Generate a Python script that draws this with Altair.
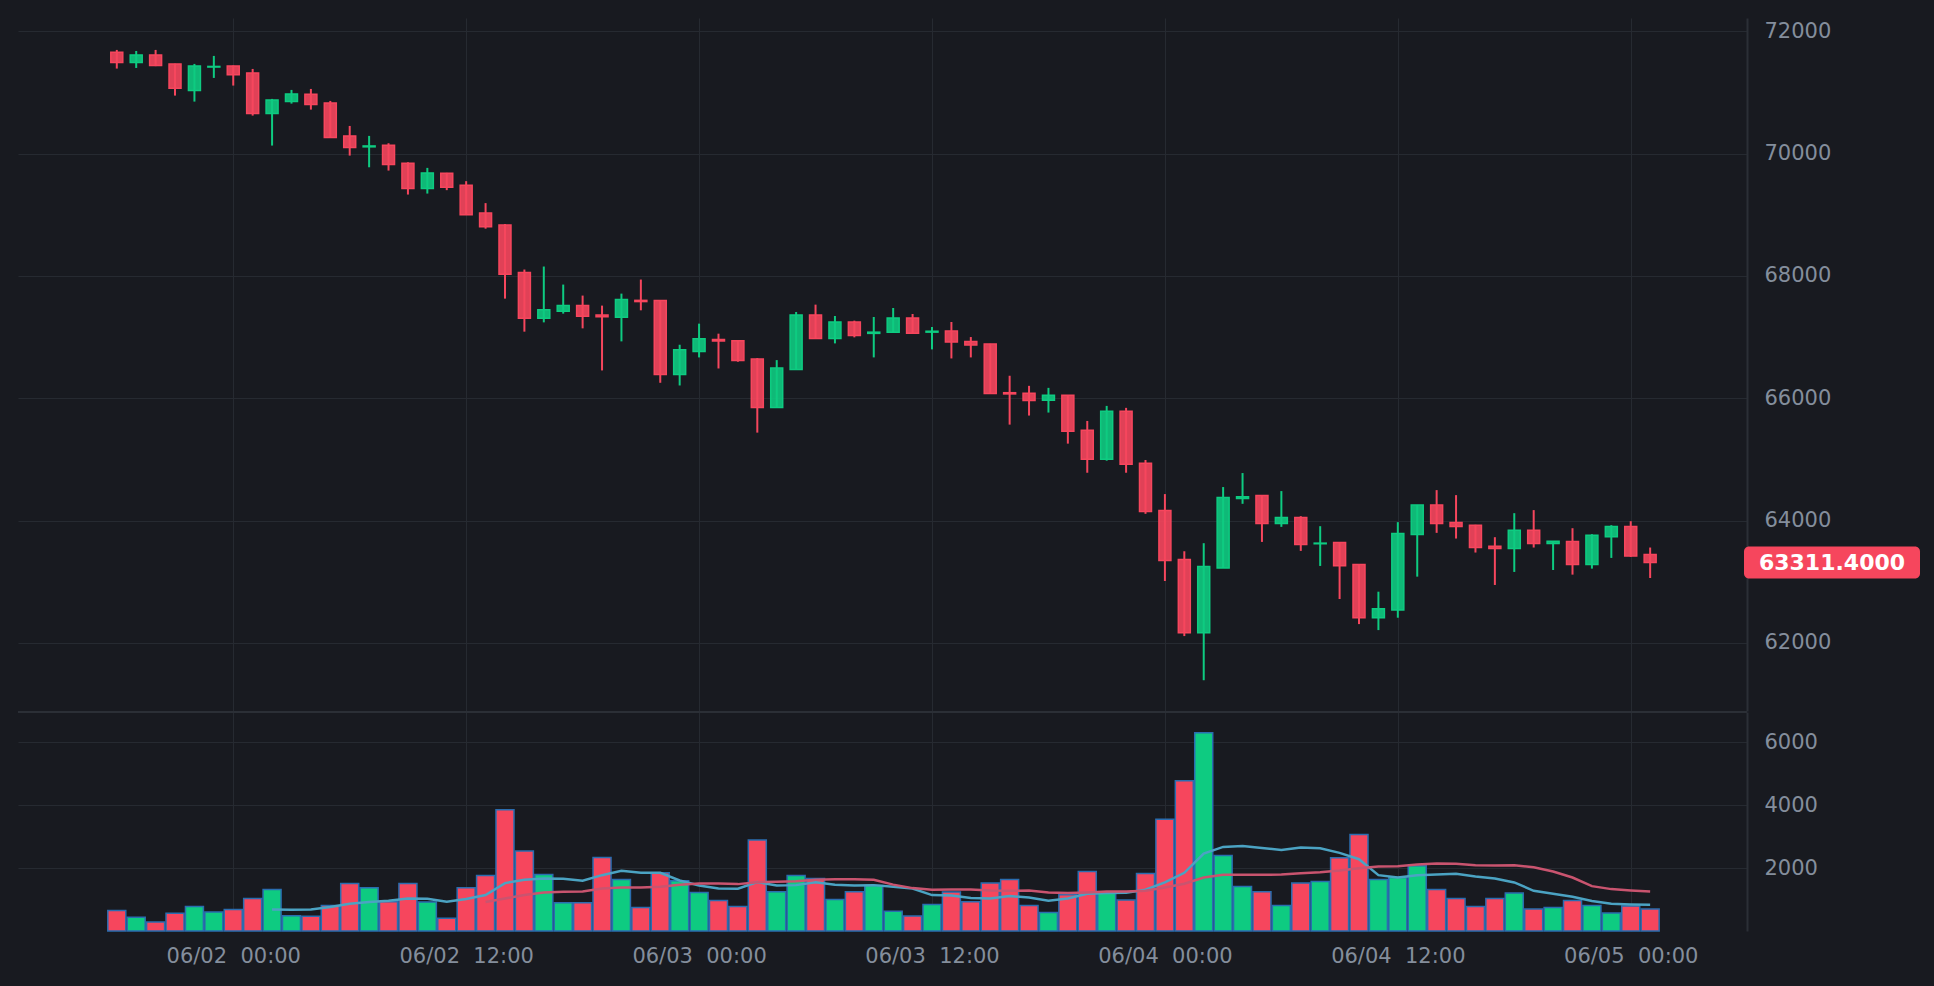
import altair as alt
import pandas as pd

# ---------------- data ----------------
first_candle = "2024-06-01T18:00:00Z"   # hourly candles
n_candles = 80

opens = [71657, 71488, 71613, 71466, 71030, 71415, 71433, 71319, 70654, 70850,
         70970, 70828, 70289, 70110, 70136, 69842, 69428, 69679, 69484, 69027,
         68831, 68055, 67306, 67421, 67514, 67360, 67322, 67600, 67596, 66388,
         66765, 66960, 66940, 66640, 65847, 66470, 67361, 66978, 67246, 67060,
         67077, 67312, 67080, 67098, 66929, 66885, 66090, 66082, 65967, 66049,
         65475, 65000, 65787, 64935, 64164, 63361, 62164, 63224, 64360, 64410,
         63951, 64049, 63620, 63640, 63279, 62410, 62536, 63771, 64252, 63967,
         63924, 63580, 63541, 63842, 63623, 63656, 63279, 63733, 63902, 63443]
highs = [71695, 71678, 71695, 71470, 71466, 71597, 71440, 71384, 70894, 71041,
         71057, 70861, 70452, 70289, 70169, 69858, 69766, 69685, 69549, 69190,
         68848, 68104, 68153, 67858, 67678, 67514, 67710, 67940, 67600, 66874,
         67219, 67055, 66945, 66656, 66623, 67410, 67530, 67344, 67268, 67328,
         67475, 67377, 67164, 67246, 67000, 66890, 66367, 66202, 66169, 66052,
         65628, 65874, 65842, 64989, 64432, 63497, 63629, 64547, 64776, 64410,
         64481, 64071, 63907, 63640, 63284, 62836, 63973, 64255, 64497, 64415,
         63930, 63727, 64120, 64170, 63661, 63874, 63776, 63924, 63989, 63558]
lows = [71390, 71400, 71430, 70948, 70850, 71237, 71112, 70621, 70131, 70817,
        70719, 70255, 69967, 69776, 69722, 69330, 69346, 69402, 68995, 68772,
        67628, 67088, 67240, 67383, 67142, 66454, 66929, 67437, 66252, 66208,
        66667, 66486, 66596, 65437, 65847, 66470, 66978, 66896, 66995, 66667,
        67077, 67060, 66798, 66650, 66667, 66070, 65568, 65716, 65765, 65257,
        64781, 64978, 64781, 64109, 63011, 62110, 61388, 63224, 64273, 63650,
        63896, 63503, 63257, 62716, 62306, 62208, 62410, 63082, 63798, 63705,
        63476, 62946, 63159, 63558, 63191, 63115, 63213, 63388, 63405, 63060]
closes = [71488, 71613, 71439, 71068, 71433, 71425, 71291, 70654, 70877, 70975,
          70801, 70261, 70098, 70125, 69820, 69428, 69684, 69451, 69000, 68804,
          68027, 67306, 67448, 67514, 67339, 67330, 67612, 67580, 66388, 66792,
          66973, 66935, 66618, 65847, 66492, 67361, 66978, 67246, 67027, 67080,
          67312, 67060, 67095, 66918, 66869, 66077, 66070, 65962, 66049, 65459,
          65000, 65787, 64918, 64148, 63344, 62164, 63246, 64377, 64388, 63951,
          64049, 63607, 63630, 63262, 62410, 62558, 63787, 64252, 63951, 63902,
          63558, 63541, 63842, 63623, 63661, 63279, 63760, 63902, 63421, 63311.4]
volumes = [656, 434, 286, 561, 783, 603, 688, 1037, 1323, 487,
           466, 815, 1513, 1375, 931, 1513, 920, 402, 1375, 1767,
           3862, 2550, 1799, 899, 899, 2338, 1640, 751, 1852, 1598,
           1227, 973, 783, 2899, 1248, 1767, 1672, 1005, 1248, 1449,
           630, 476, 846, 1238, 931, 1524, 1640, 815, 592, 1153,
           1894, 1227, 984, 1830, 3555, 4782, 6306, 2402, 1418, 1248,
           815, 1524, 1576, 2328, 3068, 1640, 1703, 2074, 1323, 1037,
           783, 1037, 1206, 698, 751, 973, 815, 571, 794, 698]

# volume averages as drawn (blue starts at candle 8, pink at candle 19)
ma_blue_first = 8
ma_blue = [688, 677, 688, 762, 867, 920, 963, 1037, 1026, 931, 1016, 1143,
           1524, 1629, 1672, 1661, 1598, 1777, 1915, 1851, 1851, 1608, 1449, 1354,
           1343, 1555, 1449, 1460, 1555, 1471, 1449, 1460, 1412, 1354, 1143, 1132,
           1047, 1037, 1111, 1068, 963, 1037, 1185, 1206, 1217, 1312, 1545, 1851,
           2465, 2677, 2708, 2645, 2582, 2656, 2634, 2486, 2285, 1777, 1703, 1777,
           1798, 1820, 1735, 1672, 1545, 1280, 1185, 1090, 952, 867, 846, 836]
ma_pink_first = 19
ma_pink = [920, 1037, 1143, 1227, 1248, 1259, 1354, 1386, 1386, 1407, 1471, 1513,
           1513, 1492, 1555, 1566, 1587, 1629, 1650, 1650, 1629, 1476, 1365, 1312,
           1323, 1323, 1291, 1280, 1291, 1227, 1206, 1227, 1259, 1259, 1280, 1386,
           1502, 1703, 1788, 1788, 1788, 1798, 1841, 1872, 1925, 1999, 2052, 2063,
           2116, 2148, 2137, 2095, 2084, 2095, 2031, 1894, 1703, 1428, 1333, 1291, 1259]

price_ticks = [62000, 64000, 66000, 68000, 70000, 72000]
volume_ticks = [2000, 4000, 6000]
time_tick_labels = ["2024-06-02T00:00:00Z", "2024-06-02T12:00:00Z", "2024-06-03T00:00:00Z",
                    "2024-06-03T12:00:00Z", "2024-06-04T00:00:00Z", "2024-06-04T12:00:00Z",
                    "2024-06-05T00:00:00Z"]
time_domain = ["2024-06-01T12:54:36Z", "2024-06-05T05:59:24Z"]

# ---------------- tables ----------------
t0 = pd.Timestamp(first_candle)
times = [(t0 + pd.Timedelta(hours=i)).strftime("%Y-%m-%dT%H:%M:%SZ") for i in range(n_candles)]

df = pd.DataFrame({
    "t": times, "open": opens, "high": highs, "low": lows, "close": closes,
    "volume": volumes,
})
df["dir"] = ["up" if c >= o else "down" for o, c in zip(opens, closes)]

df_blue = pd.DataFrame({"t": times[ma_blue_first:], "ma": ma_blue})
df_pink = pd.DataFrame({"t": times[ma_pink_first:], "ma": ma_pink})
df_last = pd.DataFrame({"close": [closes[-1]], "label": [f"{closes[-1]:.4f}"]})
df_one = pd.DataFrame({"a": [0]})

def ms(s):
    return int(pd.Timestamp(s).value // 10**6)

tick_ms = [ms(s) for s in time_tick_labels]
dom_ms = [ms(s) for s in time_domain]

# ---------------- style ----------------
BG = "#181A20"
GRID = "#262A31"
AXIS = "#2B2F36"
LABEL = "#848E9C"
GREEN = "#0ECB81"
RED = "#F6465D"
FONT = "DejaVu Sans"

W = 1729
H_PRICE = 693
H_VOL = 219

x_scale = alt.Scale(type="utc", domain=dom_ms, padding=0)
dir_scale = alt.Scale(domain=["up", "down"], range=[GREEN, RED])

x_price = alt.X("t:T", scale=x_scale, title=None,
                axis=alt.Axis(values=tick_ms, labels=False, ticks=False, domain=False,
                              grid=True, gridColor=GRID, gridWidth=1))
x_vol = alt.X("t:T", scale=x_scale, title=None,
              axis=alt.Axis(values=tick_ms, format="%m/%d\u00a0\u00a0%H:%M",
                            labelFont=FONT, labelFontSize=21, labelColor=LABEL,
                            labelPadding=14, ticks=False, domain=False,
                            grid=True, gridColor=GRID, gridWidth=1))

price_scale = alt.Scale(domain=[60885, 72217], zero=False, nice=False)
price_axis = alt.Axis(orient="right", values=price_ticks, format="d", labelFont=FONT,
                      labelFontSize=21, labelColor=LABEL, labelPadding=17, ticks=False,
                      domain=True, domainColor=AXIS, domainWidth=2,
                      grid=True, gridColor=GRID, gridWidth=1)

vol_scale = alt.Scale(domain=[0, 6970], nice=False)
vol_axis = alt.Axis(orient="right", values=volume_ticks, format="d", labelFont=FONT,
                    labelFontSize=21, labelColor=LABEL, labelPadding=17, ticks=False,
                    domain=True, domainColor=AXIS, domainWidth=2,
                    grid=True, gridColor=GRID, gridWidth=1)

# ---------------- price panel ----------------
base = alt.Chart(df)
wicks = base.mark_rule(strokeWidth=2).encode(
    x=x_price,
    y=alt.Y("low:Q", scale=price_scale, axis=price_axis, title=None),
    y2="high:Q",
    color=alt.Color("dir:N", scale=dir_scale, legend=None),
)
bodies = base.mark_bar(width=12, strokeWidth=1.5, fillOpacity=0.9).encode(
    x=x_price,
    y=alt.Y("open:Q", scale=price_scale, title=None),
    y2="close:Q",
    color=alt.Color("dir:N", scale=dir_scale, legend=None),
    stroke=alt.Stroke("dir:N", scale=dir_scale, legend=None),
)
tag_box = alt.Chart(df_last).mark_rect(color=RED, cornerRadius=5, yOffset=-16, y2Offset=16).encode(
    x=alt.value(W - 3), x2=alt.value(W + 173),
    y=alt.Y("close:Q", scale=price_scale, title=None), y2="close:Q",
)
tag_text = alt.Chart(df_last).mark_text(font=FONT, fontWeight="bold", fontSize=22, color="white",
                                        align="center", baseline="middle").encode(
    x=alt.value(W + 85),
    y=alt.Y("close:Q", scale=price_scale, title=None),
    text="label:N",
)
price = alt.layer(wicks, bodies, tag_box, tag_text).properties(width=W, height=H_PRICE)

# ---------------- volume panel ----------------
vol_bars = base.mark_bar(width=18, stroke="#2A6DB0", strokeWidth=1.5).encode(
    x=x_vol,
    y=alt.Y("volume:Q", scale=vol_scale, axis=vol_axis, title=None),
    color=alt.Color("dir:N", scale=dir_scale, legend=None),
)
line_blue = alt.Chart(df_blue).mark_line(color="#4BA3C3", strokeWidth=2.5).encode(
    x=x_vol, y=alt.Y("ma:Q", scale=vol_scale, title=None))
line_pink = alt.Chart(df_pink).mark_line(color="#C9546F", strokeWidth=2.5).encode(
    x=x_vol, y=alt.Y("ma:Q", scale=vol_scale, title=None))
separator = alt.Chart(df_one).mark_rule(color=AXIS, strokeWidth=2).encode(
    x=alt.value(0), x2=alt.value(W), y=alt.value(0))
volume = alt.layer(vol_bars, line_blue, line_pink, separator).properties(width=W, height=H_VOL)

chart = alt.vconcat(price, volume, spacing=0).properties(
    background=BG,
    padding={"left": 9, "top": 10, "right": 5, "bottom": 5},
).configure_view(stroke=None)

chart.save("out.html", embed_options={"renderer": "svg", "actions": False,
                                      "defaultStyle": "body{background:#181A20;}"})
